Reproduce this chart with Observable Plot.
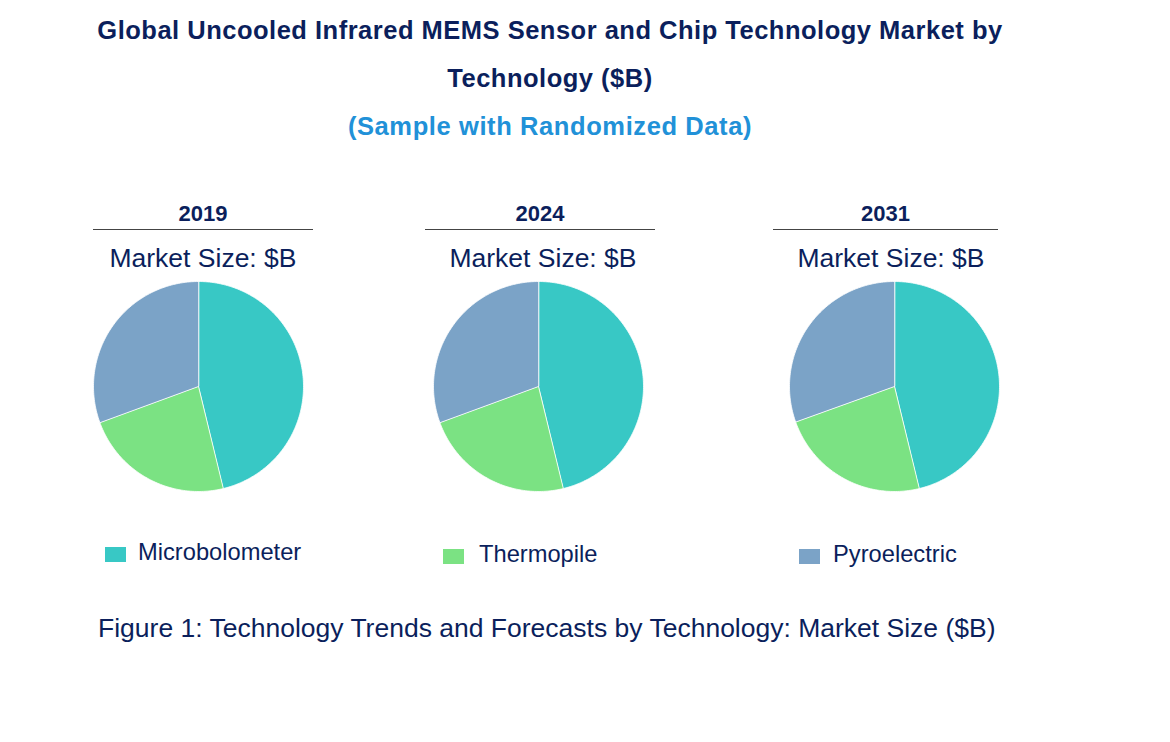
<!DOCTYPE html>
<html>
<head>
<meta charset="utf-8">
<script src="https://cdn.jsdelivr.net/npm/d3@7"></script>
<script src="https://cdn.jsdelivr.net/npm/@observablehq/plot@0.6"></script>
<style>
  html, body { margin: 0; padding: 0; background: #ffffff; }
  body { font-family: "Liberation Sans", Arial, sans-serif; }
  #page { position: relative; width: 1170px; height: 742px; overflow: hidden; }
  .abs { position: absolute; white-space: nowrap; line-height: normal; }
  .title { left: 0; width: 1100px; text-align: center; font-weight: bold; font-size: 25.5px; letter-spacing: 0.5px; color: #0B1F5C; }
  .subtitle { left: 0; width: 1100px; text-align: center; font-weight: bold; font-size: 25.5px; letter-spacing: 0.6px; color: #2191D8; }
  .year { font-weight: bold; font-size: 22px; color: #0B1F5C; text-align: center; border-bottom: 1.5px solid #444; padding-bottom: 2px; }
  .msize { font-size: 26.5px; color: #0B1F5C; text-align: center; width: 260px; }
  .legtext { font-size: 23.7px; color: #0B1F5C; }
  .sw { width: 21px; height: 15px; }
  .caption { font-size: 26.5px; color: #0B1F5C; left: 98px; }
</style>
</head>
<body>
<div id="page"></div>
<script>
// Technology shares (%) for each year
const technologies = ["Microbolometer", "Thermopile", "Pyroelectric"];
const techColors = ["#38C8C5", "#7BE283", "#7BA3C7"];
const years = ["2019", "2024", "2031"];
const share2019 = [46.2, 23.2, 30.6];
const share2024 = [46.2, 23.2, 30.6];
const share2031 = [46.2, 23.3, 30.5];
const sharesByYear = [share2019, share2024, share2031];

const titleLine1 = "Global Uncooled Infrared MEMS  Sensor and Chip Technology Market by";
const titleLine2 = "Technology ($B)";
const subtitleText = "(Sample with Randomized Data)";
const sizeLabel = "Market Size: $B";
const captionText = "Figure 1: Technology Trends and Forecasts by Technology: Market Size ($B)";

// layout of the three panels
const pieCenters = [198, 538, 894];
const labelCenters = [203, 543, 891];
const headerLines = [[93, 313], [425, 655], [773, 998]];
const swatchLefts = [105, 443, 799];
const legendTextLefts = [138, 479, 833];
const legendShift = [0, 2, 2];
const R = 105;

const page = document.getElementById("page");

function addDiv(cls, text, style) {
  const d = document.createElement("div");
  d.className = "abs " + cls;
  d.textContent = text;
  Object.assign(d.style, style);
  page.appendChild(d);
  return d;
}

addDiv("title", titleLine1, {top: "16px"});
addDiv("title", titleLine2, {top: "64px"});
addDiv("subtitle", subtitleText, {top: "112px"});

// Build closed wedge outlines from pie angles (clockwise from 12 o'clock)
function wedgePoints(values) {
  const arcs = d3.pie().sort(null).value(d => d.value)(
    technologies.map((t, i) => ({tech: t, value: values[i]}))
  );
  const pts = [];
  for (const a of arcs) {
    const tech = a.data.tech;
    pts.push({tech, x: 0, y: 0});
    const n = Math.max(2, Math.ceil((a.endAngle - a.startAngle) / (Math.PI / 180)));
    for (let k = 0; k <= n; k++) {
      const ang = a.startAngle + (a.endAngle - a.startAngle) * k / n;
      pts.push({tech, x: Math.sin(ang), y: Math.cos(ang)});
    }
  }
  return pts;
}

years.forEach((yr, i) => {
  const [x0, x1] = headerLines[i];
  addDiv("year", yr, {left: x0 + "px", width: (x1 - x0) + "px", top: "201px"});
  addDiv("msize", sizeLabel, {left: (labelCenters[i] - 130) + "px", top: "243px"});

  const chart = Plot.plot({
    width: 2 * R + 10,
    height: 2 * R + 10,
    margin: 5,
    x: {domain: [-1, 1], axis: null},
    y: {domain: [-1, 1], axis: null},
    color: {domain: technologies, range: techColors},
    marks: [
      Plot.line(wedgePoints(sharesByYear[i]), {
        x: "x", y: "y", z: "tech", fill: "tech",
        stroke: "#ffffff", strokeWidth: 0.8, curve: "linear-closed"
      })
    ]
  });
  chart.style.position = "absolute";
  chart.style.left = (pieCenters[i] - R - 5) + "px";
  chart.style.top = (386 - R - 5) + "px";
  page.appendChild(chart);

  const sw = addDiv("sw", "", {left: swatchLefts[i] + "px", top: (547 + legendShift[i]) + "px"});
  sw.style.background = techColors[i];
  addDiv("legtext", technologies[i], {left: legendTextLefts[i] + "px", top: (539 + legendShift[i]) + "px"});
});

addDiv("caption", captionText, {top: "613px"});
</script>
</body>
</html>
